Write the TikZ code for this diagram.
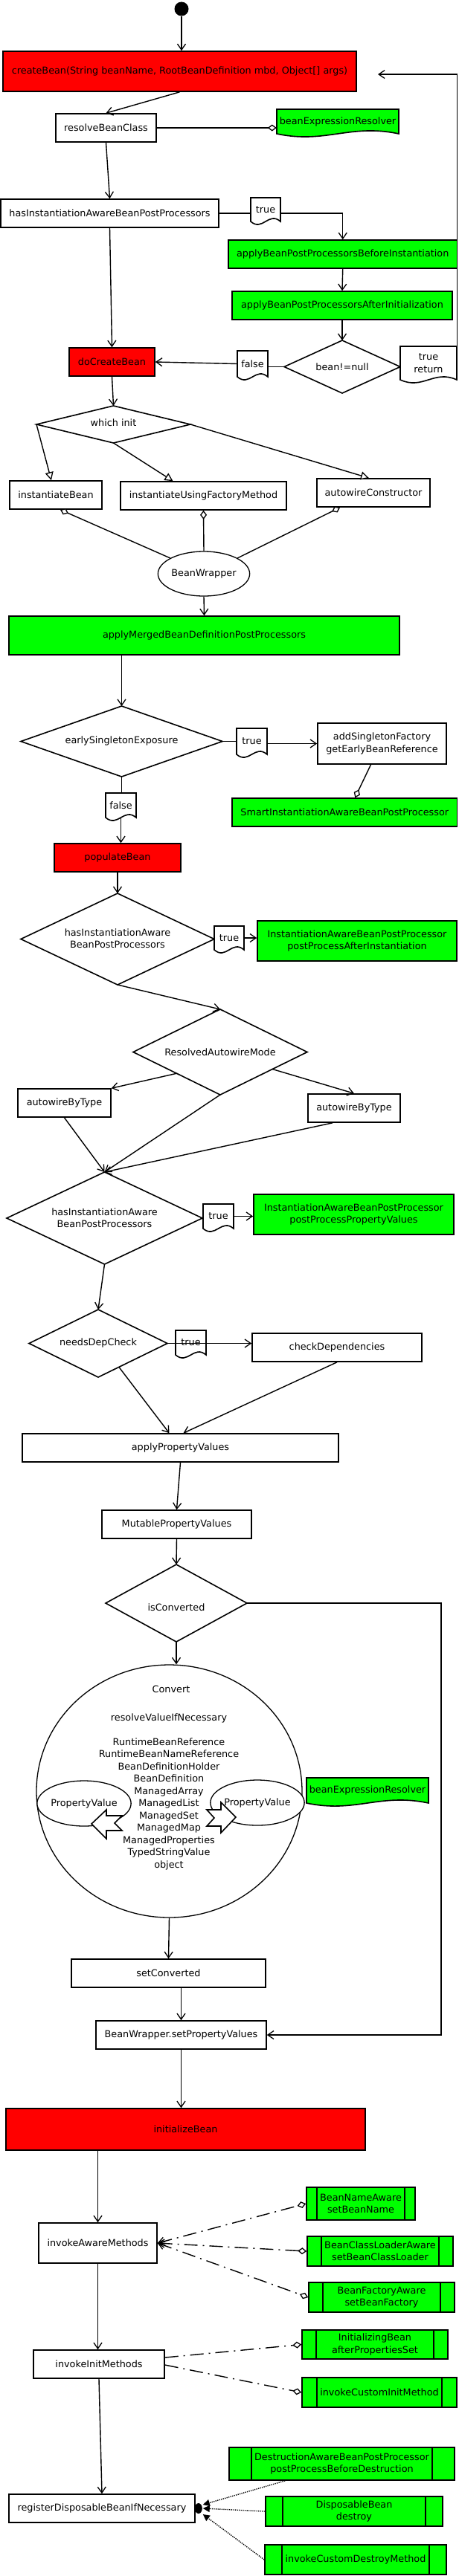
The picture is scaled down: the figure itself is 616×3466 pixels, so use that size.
\documentclass[tikz,border=0pt]{standalone}
\usepackage{fontspec}
\setmainfont{DejaVu Sans}
\usetikzlibrary{arrows.meta,calc,shapes.geometric}
\definecolor{rd}{HTML}{FF0000}
\definecolor{gr}{HTML}{00FF00}
\newcommand\dfont{\fontsize{12.8}{16.2}\selectfont}
\tikzset{
  bx/.style={draw, line width=1.6pt, fill=white, inner sep=0pt, align=center, font=\dfont},
  redbx/.style={bx, fill=rd},
  grbx/.style={bx, fill=gr},
  lbl/.style={inner sep=0pt, align=center, font=\dfont},
  conn/.style={line width=1.4pt},
  arr/.style={conn, -{Straight Barb[length=8pt,width=11pt,line width=1.3pt]}},
  tri/.style={conn, -{Triangle[length=11pt,width=11pt,line width=1.3pt,fill=white]}},
  agg/.style={conn, -{Diamond[length=12pt,width=9pt,line width=1.3pt,fill=white]}},
  dashdot/.style={line width=1.4pt, dash pattern=on 18pt off 7pt on 2pt off 7pt},
  dotl/.style={line width=1.4pt, dash pattern=on 1.3pt off 1.3pt},
  shapeline/.style={line width=1.6pt},
  ell/.style={draw, ellipse, line width=1.3pt, fill=white, inner sep=0pt, font=\dfont},
}
\newcommand\bxat[7]{\node[#6, minimum width={(#4)-(#2)}, minimum height={(#5)-(#3)}] (#1) at ({((#2)+(#4))/2},{((#3)+(#5))/2}) {#7};}
\newcommand\diam[5]{%
  \coordinate (#1n) at (#2,{(#3)-(#5)});
  \coordinate (#1s) at (#2,{(#3)+(#5)});
  \coordinate (#1e) at ({(#2)+(#4)},#3);
  \coordinate (#1w) at ({(#2)-(#4)},#3);
  \draw[shapeline, fill=white] (#1n) -- (#1e) -- (#1s) -- (#1w) -- cycle;}
\newcommand\wnote[7]{%
  \draw[shapeline, fill=#6] (#2,#3) -- (#4,#3) -- (#4,#5) .. controls ({(#4)-0.4*((#4)-(#2))},{(#5)-14}) and ({(#2)+0.4*((#4)-(#2))},{(#5)+14}) .. (#2,#5) -- cycle;
  \node[lbl, minimum width={(#4)-(#2)}, minimum height={(#5)-(#3)}] (#1) at ({((#2)+(#4))/2},{((#3)+(#5))/2}) {#7};}
\newcommand\dbar[2]{\draw[shapeline] ([xshift=#2pt]#1.north west) -- ([xshift=#2pt]#1.south west) ([xshift=-#2pt]#1.north east) -- ([xshift=-#2pt]#1.south east);}
\begin{document}
\begin{tikzpicture}[x=1pt,y=-1pt]
\useasboundingbox (0,0) rectangle (616,3466);
\fill[white] (0,0) rectangle (616,3466);

% ---------- nodes ----------
\node[circle, fill, inner sep=0pt, minimum size=19pt] (start) at (244,12) {};
\bxat{cb}{4}{69}{479}{123}{redbx}{createBean(String beanName, RootBeanDefinition mbd, Object[] args)}
\bxat{rbc}{75}{153}{210}{191}{bx}{resolveBeanClass}
\wnote{ber1}{372}{147}{536}{180}{gr}{beanExpressionResolver}
\bxat{hi}{1}{268}{294}{306}{bx}{hasInstantiationAwareBeanPostProcessors}
\wnote{tn1}{337}{266}{377}{298}{white}{true}
\bxat{abi}{307}{323}{614.5}{361}{grbx}{applyBeanPostProcessorsBeforeInstantiation}
\bxat{aai}{312}{392}{608}{430}{grbx}{applyBeanPostProcessorsAfterInitialization}
\diam{bn}{460}{493.5}{78}{35.5}
\node[lbl] (bn) at (460,493.5) {bean!=null};
\wnote{trn}{538}{466}{614}{511}{white}{true\\return}
\wnote{fn1}{319}{472}{360}{507}{white}{false}
\bxat{dcb}{93}{468}{208}{506}{redbx}{doCreateBean}
\diam{wi}{152.5}{571}{103.5}{25}
\node[lbl] (wi) at (152.5,569) {which init};
\bxat{ib}{13}{647}{137}{685}{bx}{instantiateBean}
\bxat{iufm}{162}{648}{385}{686}{bx}{instantiateUsingFactoryMethod}
\bxat{ac}{426}{644}{578}{682}{bx}{autowireConstructor}
\node[ell, minimum width=122pt, minimum height=60pt] (bw) at (274,772) {BeanWrapper};
\bxat{am}{12}{829}{537}{881}{grbx}{applyMergedBeanDefinitionPostProcessors}
\diam{es}{163.5}{997.5}{135.5}{47.5}
\node[lbl] (es) at (163.5,997) {earlySingletonExposure};
\wnote{tn2}{318}{980}{359}{1015}{white}{true}
\bxat{asf}{427}{973}{600}{1028}{bx}{addSingletonFactory\\getEarlyBeanReference}
\bxat{sm}{312}{1074}{614.5}{1112}{grbx}{SmartInstantiationAwareBeanPostProcessor}
\wnote{fn2}{142}{1067}{183}{1100}{white}{false}
\bxat{pb}{73}{1135}{243}{1173}{redbx}{populateBean}
\diam{d3}{158}{1263.5}{130}{61.5}
\node[lbl] (d3) at (158,1263) {hasInstantiationAware\\BeanPostProcessors};
\wnote{tn3}{288}{1246}{328}{1278}{white}{true}
\bxat{iabp1}{346}{1239}{614}{1293}{grbx}{InstantiationAwareBeanPostProcessor\\postProcessAfterInstantiation}
\diam{ra}{296}{1415.5}{117}{57.5}
\node[lbl] (ra) at (296,1416) {ResolvedAutowireMode};
\bxat{abt1}{24}{1465}{149}{1503}{bx}{autowireByType}
\bxat{abt2}{414}{1472}{538}{1510}{bx}{autowireByType}
\diam{d4}{140.5}{1639}{131.5}{62}
\node[lbl] (d4) at (140.5,1639) {hasInstantiationAware\\BeanPostProcessors};
\wnote{tn4}{273}{1620}{314}{1653}{white}{true}
\bxat{iabp2}{341}{1607}{610}{1661}{grbx}{InstantiationAwareBeanPostProcessor\\postProcessPropertyValues}
\diam{nd}{132}{1807.5}{93}{45.5}
\node[lbl] (nd) at (132,1807) {needsDepCheck};
\wnote{tn5}{236}{1790}{277}{1823}{white}{true}
\bxat{cd}{339}{1794}{567}{1832}{bx}{checkDependencies}
\bxat{apv}{30}{1929}{455}{1967}{bx}{applyPropertyValues}
\bxat{mpv}{137}{2032}{338}{2070}{bx}{MutablePropertyValues}
\diam{ic}{237}{2157}{95}{52}
\node[lbl] (ic) at (237,2163) {isConverted};
\node[ell, minimum width=357pt, minimum height=340pt] (conv) at (227.5,2410) {};
\node[lbl] (cvt) at (230,2273) {Convert};
\node[lbl] (rvin) at (227,2312) {resolveValueIfNecessary};
\node[ell, minimum width=124pt, minimum height=61pt] (pvl) at (113,2426.5) {PropertyValue};
\node[ell, minimum width=124pt, minimum height=61pt] (pvr) at (346,2425.5) {PropertyValue};
\node[lbl, font=\fontsize{12.8}{16.5}\selectfont] (cvlist) at (227,2427) {RuntimeBeanReference\\RuntimeBeanNameReference\\BeanDefinitionHolder\\BeanDefinition\\ManagedArray\\ManagedList\\ManagedSet\\ManagedMap\\ManagedProperties\\TypedStringValue\\object};
\draw[shapeline, fill=white] (164,2443) -- (143,2443) -- (143,2435) -- (123,2454) -- (143,2474) -- (143,2463) -- (164,2463) -- (154,2453) -- cycle;
\draw[shapeline, fill=white] (278,2435) -- (297,2435) -- (297,2425) -- (317,2445) -- (297,2466) -- (297,2457) -- (278,2457) -- (288,2446) -- cycle;
\wnote{ber2}{412}{2392}{576}{2426}{gr}{beanExpressionResolver}
\bxat{sc}{96}{2636}{357}{2674}{bx}{setConverted}
\bxat{bwsp}{129}{2719}{358}{2757}{bx}{BeanWrapper.setPropertyValues}
\bxat{inb}{8}{2837}{491}{2893}{redbx}{initializeBean}
\bxat{iam}{52}{2991}{211}{3045}{bx}{invokeAwareMethods}
\bxat{bna}{412}{2943}{558}{2987}{grbx}{BeanNameAware\\setBeanName}
\dbar{bna}{15}
\bxat{bcl}{413}{3009}{609}{3049}{grbx}{BeanClassLoaderAware\\setBeanClassLoader}
\dbar{bcl}{20}
\bxat{bfa}{415}{3071}{611}{3111}{grbx}{BeanFactoryAware\\setBeanFactory}
\dbar{bfa}{20}
\bxat{inz}{406}{3135}{602}{3174}{grbx}{InitializingBean\\afterPropertiesSet}
\dbar{inz}{20}
\bxat{iim}{45}{3162}{221}{3200}{bx}{invokeInitMethods}
\bxat{cim}{406}{3199}{614}{3239}{grbx}{invokeCustomInitMethod}
\dbar{cim}{21}
\bxat{rdb}{12}{3356}{262}{3394}{bx}{registerDisposableBeanIfNecessary}
\bxat{dab}{308}{3293}{611}{3337}{grbx}{DestructionAwareBeanPostProcessor\\postProcessBeforeDestruction}
\dbar{dab}{31}
\bxat{db}{357}{3359}{595}{3399}{grbx}{DisposableBean\\destroy}
\dbar{db}{24}
\bxat{cdm}{356}{3424}{600}{3464}{grbx}{invokeCustomDestroyMethod}
\dbar{cdm}{24}

\coordinate (loopend) at (508,100);
\coordinate (loopx) at (593,2157);

% ---------- connectors ----------
\draw[arr] (start) -- (start |- cb.north);
\draw[arr] (cb.south) -- (rbc.north);
\draw[agg] (rbc.east) -- (rbc.east -| ber1.west);
\draw[arr] (rbc.south) -- (hi.north);
\draw[conn] (hi.east) -- (hi.east -| tn1.west);
\draw[arr] (hi.east -| tn1.east) -- (hi.east -| abi.north) -- (abi.north);
\draw[arr] (abi.south) -- (aai.north);
\draw[arr] (aai.south) -- (bnn);
\draw[conn] (bnw) -- (bnw -| fn1.east);
\draw[arr] (fn1.west) -- (dcb.east);
\draw[arr] (trn.north east) -- (trn.north east |- loopend) -- (loopend);
\draw[arr] (hi.south) -- (dcb.north);
\draw[arr] (dcb.south) -- (win);
\draw[tri] (wiw) -- ([xshift=-6pt]ib.north);
\draw[tri] (wis) -- ([xshift=-41pt]iufm.north);
\draw[tri] (wie) -- ([xshift=-6pt]ac.north);
\draw[agg] (bw.155) -- ([xshift=6pt]ib.south);
\draw[agg] (bw.north) -- (iufm.south);
\draw[agg] (bw.25) -- ([xshift=-45pt]ac.south);
\draw[arr] (bw.south) -- (am.north);
\draw[arr] (am.south -| esn) -- (esn);
\draw[conn] (ese) -- (ese -| tn2.west);
\draw[arr] (asf.west -| tn2.east) -- (asf.west);
\draw[agg] ([xshift=-15pt]asf.south) -- ([xshift=14pt]sm.north);
\draw[conn] (ess) -- (ess |- fn2.north);
\draw[arr] (fn2.south) -- (fn2.south |- pb.north);
\draw[arr] (pb.south) -- (d3n);
\draw[arr] (tn3.east) -- (tn3.east -| iabp1.west);
\draw[arr] (d3s) -- (ran);
\draw[arr] ($(raw)!0.5!(ras)$) -- (abt1.north east);
\draw[arr] ($(rae)!0.4!(ras)$) -- (abt2.north);
\draw[arr] (ras) -- (d4n);
\draw[arr] (abt1.south) -- (d4n);
\draw[arr] ([xshift=-29pt]abt2.south) -- (d4n);
\draw[arr] (tn4.east) -- (tn4.east -| iabp2.west);
\draw[arr] (d4s) -- (ndn);
\draw[arr] (nde) -- (nde -| cd.west);
\draw[arr] ($(nds)!0.3!(nde)$) -- ([xshift=-15pt]apv.north);
\draw[arr] (cd.south) -- ([xshift=4pt]apv.north);
\draw[arr] (apv.south) -- (mpv.north);
\draw[arr] (mpv.south) -- (icn);
\draw[arr] (ics) -- (ics |- conv.north);
\draw[arr] (ice) -- (loopx) -- (loopx |- bwsp.east) -- (bwsp.east);
\draw[arr] (conv.south) -- (sc.north);
\draw[arr] (sc.south -| bwsp.north) -- (bwsp.north);
\draw[arr] (bwsp.south) -- (bwsp.south |- inb.north);
\draw[arr] (inb.south -| iam.north) -- (iam.north);
\draw[arr] (iam.south) -- (iam.south |- iim.north);
\draw[arr] (iim.south) -- (rdb.north);
\foreach \t in {bna,bcl,bfa}{
  \draw[dashdot, {Straight Barb[length=8pt,width=11pt,line width=1.3pt]}-{Diamond[length=12pt,width=9pt,line width=1.3pt,fill=white]}] (iam.east) -- (\t.west);
}
\draw[dashdot, -{Diamond[length=12pt,width=9pt,line width=1.3pt,fill=white]}] ([yshift=9pt]iim.east) -- (inz.west);
\draw[dashdot, -{Diamond[length=12pt,width=9pt,line width=1.3pt,fill=white]}] ([yshift=-1pt]iim.east) -- (cim.west);
\coordinate (rb) at ([xshift=10pt]rdb.east);
\fill ([xshift=4pt]rdb.east) ellipse [x radius=5pt, y radius=7pt];
\draw[dotl, -{Triangle[length=9pt,width=9pt]}] ([xshift=76pt]dab.south west) -- ([yshift=5pt]rb);
\draw[dotl, -{Triangle[length=9pt,width=9pt]}] (db.west) -- (rb);
\draw[dotl, -{Triangle[length=9pt,width=9pt]}] (cdm.west) -- ([yshift=-8pt]rb);
\end{tikzpicture}
\end{document}
